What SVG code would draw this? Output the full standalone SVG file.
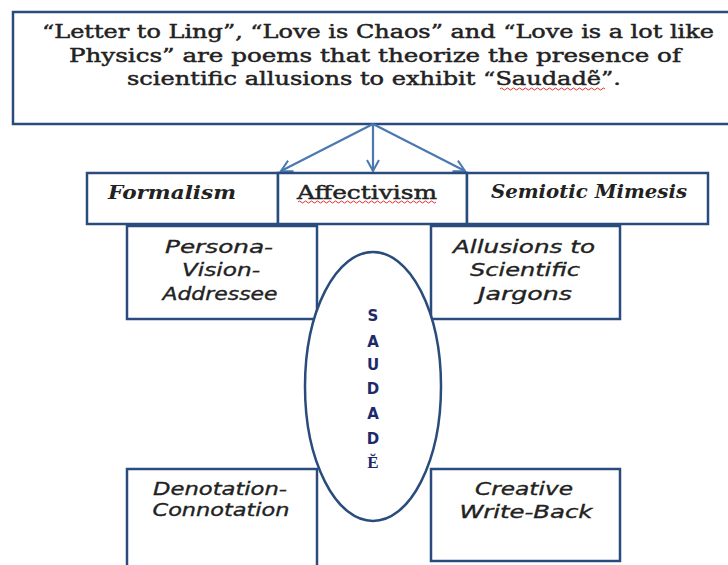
<svg xmlns="http://www.w3.org/2000/svg" width="728" height="565" viewBox="0 0 728 565">
<defs>
<marker id="arr" markerWidth="14" markerHeight="14" refX="12" refY="7" orient="auto" markerUnits="userSpaceOnUse">
<path d="M1,1 L12,7 L1,13" fill="none" stroke="#4a78b0" stroke-width="2"/>
</marker>
<style>
.box{fill:#fff;stroke:#2a4c7c;stroke-width:2.5}
.conn{stroke:#4a78b0;stroke-width:2.2;fill:none}
.title{font-family:"DejaVu Serif",serif;font-size:18px;fill:#222;stroke:#222;stroke-width:0.45;text-anchor:middle}
.ser{font-family:"DejaVu Serif",serif;font-weight:bold;font-style:italic;font-size:18px;fill:#222}
.sans{font-family:"DejaVu Sans",sans-serif;font-style:oblique;font-size:18px;fill:#222;stroke:#222;stroke-width:0.35;text-anchor:middle}
.sq{fill:none;stroke:#e03030;stroke-width:1}
.vert{font-family:"DejaVu Sans",sans-serif;font-weight:bold;font-size:15px;fill:#1c2a6a;text-anchor:middle}
</style>
</defs>
<rect width="728" height="565" fill="#fff"/>
<g id="title">
<rect class="box" x="13" y="12" width="730" height="112"/>
<text class="title" x="378" y="38" textLength="672" lengthAdjust="spacingAndGlyphs">“Letter to Ling”, “Love is Chaos” and “Love is a lot like</text>
<text class="title" x="375" y="62" textLength="612" lengthAdjust="spacingAndGlyphs">Physics” are poems that theorize the presence of</text>
<text class="title" x="374" y="85" textLength="494" lengthAdjust="spacingAndGlyphs">scientific  allusions to exhibit “Saudadẽ”.</text>
<path class="sq" d="M500,89 q1.5,-2 3,0 t3,0 t3,0 t3,0 t3,0 t3,0 t3,0 t3,0 t3,0 t3,0 t3,0 t3,0 t3,0 t3,0 t3,0 t3,0 t3,0 t3,0 t3,0 t3,0 t3,0 t3,0 t3,0 t3,0 t3,0 t3,0 t3,0 t3,0 t3,0 t3,0 t3,0 t3,0 t3,0 t3,0 t3,0"/>
</g>
<g id="connectors">
<line class="conn" x1="373" y1="124" x2="281" y2="171" marker-end="url(#arr)"/>
<line class="conn" x1="373" y1="124" x2="373" y2="171" marker-end="url(#arr)"/>
<line class="conn" x1="373" y1="124" x2="465" y2="171" marker-end="url(#arr)"/>
</g>
<g id="formalism">
<rect class="box" x="87" y="173" width="191" height="51"/>
<text class="ser" x="108" y="199" textLength="128" lengthAdjust="spacingAndGlyphs">Formalism</text>
</g>
<g id="affectivism">
<rect class="box" x="278" y="173" width="189" height="51"/>
<text x="297" y="199" textLength="140" lengthAdjust="spacingAndGlyphs" style="font-family:'DejaVu Serif',serif;font-size:18px;fill:#222;stroke:#222;stroke-width:0.45">Affectivism</text>
<path class="sq" d="M298,202 q1.5,-2 3,0 t3,0 t3,0 t3,0 t3,0 t3,0 t3,0 t3,0 t3,0 t3,0 t3,0 t3,0 t3,0 t3,0 t3,0 t3,0 t3,0 t3,0 t3,0 t3,0 t3,0 t3,0 t3,0 t3,0 t3,0 t3,0 t3,0 t3,0 t3,0 t3,0 t3,0 t3,0 t3,0 t3,0 t3,0 t3,0 t3,0 t3,0 t3,0 t3,0 t3,0 t3,0 t3,0 t3,0 t3,0 t3,0"/>
</g>
<g id="semiotic">
<rect class="box" x="467" y="173" width="241" height="51"/>
<text class="ser" x="491" y="198" textLength="196" lengthAdjust="spacingAndGlyphs">Semiotic Mimesis</text>
</g>
<g id="persona">
<rect class="box" x="127" y="226" width="190" height="93"/>
<text class="sans" x="219" y="253" textLength="108" lengthAdjust="spacingAndGlyphs">Persona-</text>
<text class="sans" x="221" y="276" textLength="78" lengthAdjust="spacingAndGlyphs">Vision-</text>
<text class="sans" x="220" y="300" textLength="115" lengthAdjust="spacingAndGlyphs">Addressee</text>
</g>
<g id="allusions">
<rect class="box" x="431" y="226" width="189" height="93"/>
<text class="sans" x="524" y="253" textLength="142" lengthAdjust="spacingAndGlyphs">Allusions to</text>
<text class="sans" x="525" y="276" textLength="110" lengthAdjust="spacingAndGlyphs">Scientific</text>
<text class="sans" x="525" y="300" textLength="94" lengthAdjust="spacingAndGlyphs">Jargons</text>
</g>
<g id="denotation">
<rect class="box" x="127" y="469" width="190" height="110"/>
<text class="sans" x="220" y="495" textLength="134" lengthAdjust="spacingAndGlyphs">Denotation-</text>
<text class="sans" x="221" y="516" textLength="137" lengthAdjust="spacingAndGlyphs">Connotation</text>
</g>
<g id="creative">
<rect class="box" x="431" y="469" width="189" height="92"/>
<text class="sans" x="524" y="495" textLength="98" lengthAdjust="spacingAndGlyphs">Creative</text>
<text class="sans" x="526" y="518" textLength="133" lengthAdjust="spacingAndGlyphs">Write-Back</text>
</g>
<g id="saudade">
<ellipse cx="373" cy="386.5" rx="68" ry="134.5" fill="#fff" stroke="#2a4c7c" stroke-width="2.5"/>
<text class="vert" x="373" y="321">S</text>
<text class="vert" x="373" y="347">A</text>
<text class="vert" x="373" y="370">U</text>
<text class="vert" x="373" y="394">D</text>
<text class="vert" x="373" y="419">A</text>
<text class="vert" x="373" y="444">D</text>
<text x="373" y="468" style="font-family:'Liberation Serif',serif;font-weight:bold;font-size:17px;fill:#1c2a6a;text-anchor:middle">Ĕ</text>
</g>
</svg>
